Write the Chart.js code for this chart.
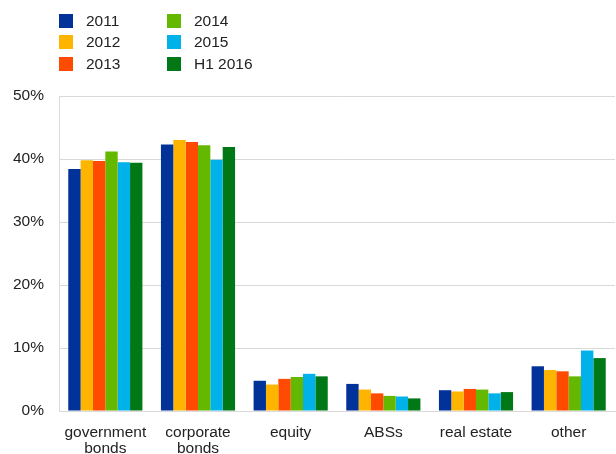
<!DOCTYPE html>
<html>
<head>
<meta charset="utf-8">
<script src="https://cdn.jsdelivr.net/npm/chart.js@4/dist/chart.umd.min.js"></script>
<style>
  body { margin: 0; background: #fff; }
  #wrap { position: relative; width: 616px; height: 454px; }
  #legend { position: absolute; left: 59px; top: 14px; font: 15.5px "Liberation Sans", Arial, sans-serif; color: #222; }
  .item { position: absolute; white-space: nowrap; line-height: 14px; }
  .box { display: inline-block; width: 14px; height: 14px; vertical-align: top; margin-right: 13px; }
</style>
</head>
<body>
<div id="wrap">
  <canvas id="canvas" width="616" height="454"></canvas>
  <div id="legend"></div>
</div>
<script>
// categories on the x axis
let categories = [['government', 'bonds'], ['corporate', 'bonds'], 'equity', 'ABSs', 'real estate', 'other'];

// series names and colours
let seriesNames = ['2011', '2012', '2013', '2014', '2015', 'H1 2016'];
let colors = ['#003299', '#ffb400', '#ff4b00', '#65b800', '#00b1ea', '#007816'];

// share of portfolio (%) per series
let v2011 = [38.4, 42.3, 4.8, 4.3, 3.3, 7.1];
let v2012 = [39.8, 43.0, 4.2, 3.4, 3.1, 6.5];
let v2013 = [39.7, 42.7, 5.1, 2.8, 3.5, 6.3];
let v2014 = [41.2, 42.2, 5.4, 2.4, 3.4, 5.5];
let v2015 = [39.5, 39.9, 5.9, 2.3, 2.8, 9.6];
let vH12016 = [39.4, 41.9, 5.5, 2.0, 3.0, 8.4];

let values = [v2011, v2012, v2013, v2014, v2015, vH12016];

let datasets = [];
for (let i = 0; i < seriesNames.length; i++) {
  datasets.push({
    label: seriesNames[i],
    data: values[i],
    backgroundColor: colors[i],
    borderWidth: 0,
    categoryPercentage: 0.8,
    barPercentage: 1.0
  });
}

// legend: two columns of three
let legend = document.getElementById('legend');
for (let i = 0; i < seriesNames.length; i++) {
  let col = Math.floor(i / 3);
  let row = i % 3;
  let div = document.createElement('div');
  div.className = 'item';
  div.style.left = (col * 108) + 'px';
  div.style.top = (row * 21.3) + 'px';
  div.innerHTML = '<span class="box" style="background:' + colors[i] + '"></span>' + seriesNames[i];
  legend.appendChild(div);
}

let font = { family: '"Liberation Sans", Arial, sans-serif', size: 15.5, lineHeight: 1.0 };

let options = {
  type: 'bar',
  data: { labels: categories, datasets: datasets },
  options: {
    responsive: false,
    animation: false,
    layout: { padding: { top: 96, left: 3, right: 1, bottom: 0 } },
    plugins: { legend: { display: false }, tooltip: { enabled: false } },
    scales: {
      x: {
        grid: { display: false },
        border: { color: '#d9d9d9' },
        ticks: { color: '#222', font: font, padding: 6, maxRotation: 0 },
        afterFit: function (scale) { scale.height = 43; }
      },
      y: {
        min: 0,
        max: 50,
        grid: { color: '#d9d9d9', drawTicks: false },
        border: { color: '#d9d9d9' },
        ticks: { stepSize: 10, color: '#222', font: font, padding: 15, callback: function (v) { return v + '%'; } },
        afterFit: function (scale) { scale.width = 56; }
      }
    }
  }
};

let chart = new Chart(document.getElementById('canvas'), options);
</script>
</body>
</html>
